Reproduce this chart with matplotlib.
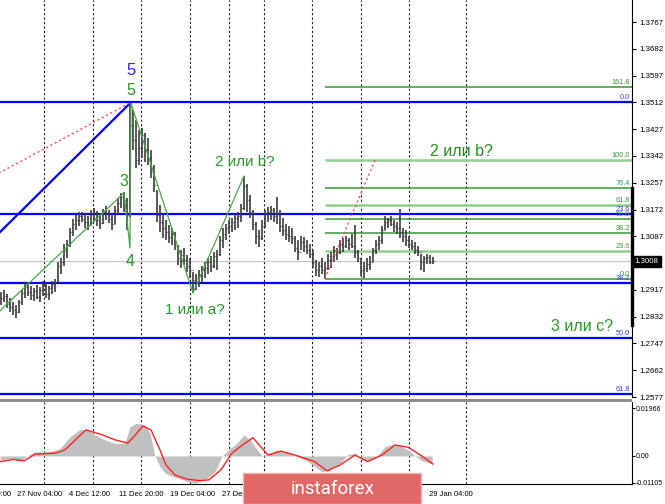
import matplotlib
matplotlib.use('Agg')
import matplotlib.pyplot as plt
from matplotlib.patches import Rectangle
from matplotlib.transforms import blended_transform_factory
import numpy as np

plt.rcParams['font.family'] = ['Liberation Sans', 'DejaVu Sans']

# H4 bars
highs = [1.2910, 1.2917, 1.2904, 1.2891, 1.2879, 1.2869, 1.2885, 1.2917, 1.2939, 1.2942,
         1.2929, 1.2923, 1.2932, 1.2926, 1.2945, 1.2939, 1.2929, 1.2945, 1.2952, 1.3006,
         1.3018, 1.3063, 1.3075, 1.3113, 1.3142, 1.3155, 1.3164, 1.3164, 1.3158, 1.3152,
         1.3171, 1.3177, 1.3167, 1.3161, 1.3174, 1.3183, 1.3171, 1.3158, 1.3183, 1.3209,
         1.3225, 1.3228, 1.3209, 1.3510, 1.3488, 1.3456, 1.3424, 1.3431, 1.3415, 1.3399,
         1.3361, 1.3313, 1.3234, 1.3186, 1.3155, 1.3139, 1.3123, 1.3113, 1.3101, 1.3059,
         1.3043, 1.3050, 1.3028, 1.3018, 1.2974, 1.2967, 1.2980, 1.2993, 1.3006, 1.3018,
         1.3025, 1.3037, 1.3043, 1.3088, 1.3113, 1.3126, 1.3139, 1.3145, 1.3158, 1.3164,
         1.3190, 1.3278, 1.3253, 1.3218, 1.3171, 1.3132, 1.3107, 1.3139, 1.3171, 1.3180,
         1.3183, 1.3177, 1.3212, 1.3171, 1.3145, 1.3126, 1.3120, 1.3113, 1.3088, 1.3075,
         1.3088, 1.3085, 1.3075, 1.3063, 1.3043, 1.3012, 1.3006, 1.3018, 1.3006, 1.3031,
         1.3037, 1.3056, 1.3050, 1.3075, 1.3082, 1.3088, 1.3082, 1.3094, 1.3123, 1.3043,
         1.3018, 1.3006, 1.3018, 1.3025, 1.3050, 1.3075, 1.3088, 1.3120, 1.3152, 1.3145,
         1.3152, 1.3139, 1.3132, 1.3174, 1.3113, 1.3107, 1.3088, 1.3075, 1.3069, 1.3056,
         1.3031, 1.3025, 1.3031, 1.3028, 1.3021]
lows = [1.2869, 1.2879, 1.2860, 1.2847, 1.2837, 1.2828, 1.2844, 1.2869, 1.2891, 1.2898,
        1.2885, 1.2882, 1.2888, 1.2879, 1.2898, 1.2891, 1.2885, 1.2904, 1.2910, 1.2939,
        1.2967, 1.2993, 1.3018, 1.3053, 1.3088, 1.3107, 1.3120, 1.3132, 1.3113, 1.3107,
        1.3123, 1.3132, 1.3120, 1.3110, 1.3126, 1.3139, 1.3129, 1.3107, 1.3126, 1.3158,
        1.3177, 1.3164, 1.3107, 1.3148, 1.3361, 1.3304, 1.3313, 1.3336, 1.3323, 1.3313,
        1.3272, 1.3228, 1.3132, 1.3101, 1.3082, 1.3075, 1.3066, 1.3059, 1.3043, 1.2996,
        1.2986, 1.2996, 1.2974, 1.2955, 1.2907, 1.2917, 1.2926, 1.2939, 1.2955, 1.2967,
        1.2974, 1.2986, 1.2980, 1.3025, 1.3050, 1.3075, 1.3094, 1.3101, 1.3107, 1.3113,
        1.3132, 1.3171, 1.3164, 1.3145, 1.3107, 1.3063, 1.3053, 1.3075, 1.3113, 1.3132,
        1.3139, 1.3132, 1.3126, 1.3101, 1.3088, 1.3075, 1.3069, 1.3063, 1.3037, 1.3012,
        1.3043, 1.3037, 1.3031, 1.3018, 1.2986, 1.2961, 1.2958, 1.2967, 1.2952, 1.2980,
        1.2986, 1.3006, 1.3012, 1.3031, 1.3037, 1.3050, 1.3043, 1.3050, 1.3018, 1.3006,
        1.2961, 1.2955, 1.2974, 1.2980, 1.3006, 1.3031, 1.3043, 1.3063, 1.3107, 1.3113,
        1.3120, 1.3101, 1.3094, 1.3082, 1.3069, 1.3056, 1.3050, 1.3043, 1.3031, 1.3025,
        1.2980, 1.2974, 1.2999, 1.2999, 1.2999]
closes = [1.2891, 1.2898, 1.2872, 1.2863, 1.2853, 1.2847, 1.2879, 1.2907, 1.2926, 1.2910,
          1.2901, 1.2914, 1.2894, 1.2917, 1.2929, 1.2904, 1.2923, 1.2936, 1.2942, 1.2993,
          1.3006, 1.3043, 1.3063, 1.3101, 1.3126, 1.3139, 1.3152, 1.3142, 1.3132, 1.3123,
          1.3158, 1.3145, 1.3139, 1.3129, 1.3164, 1.3158, 1.3142, 1.3126, 1.3171, 1.3193,
          1.3212, 1.3202, 1.3155, 1.3440, 1.3393, 1.3329, 1.3367, 1.3409, 1.3361, 1.3336,
          1.3291, 1.3250, 1.3155, 1.3132, 1.3113, 1.3101, 1.3085, 1.3094, 1.3056, 1.3018,
          1.3028, 1.3012, 1.2993, 1.2980, 1.2948, 1.2955, 1.2964, 1.2980, 1.2986, 1.3006,
          1.2993, 1.3025, 1.3031, 1.3075, 1.3094, 1.3113, 1.3120, 1.3132, 1.3145, 1.3152,
          1.3177, 1.3247, 1.3202, 1.3164, 1.3126, 1.3088, 1.3082, 1.3120, 1.3158, 1.3164,
          1.3171, 1.3152, 1.3158, 1.3120, 1.3107, 1.3094, 1.3088, 1.3082, 1.3050, 1.3037,
          1.3069, 1.3056, 1.3043, 1.3031, 1.3006, 1.2980, 1.2993, 1.2980, 1.2986, 1.3012,
          1.3025, 1.3043, 1.3037, 1.3063, 1.3056, 1.3075, 1.3063, 1.3056, 1.3037, 1.3018,
          1.2980, 1.2986, 1.2999, 1.3006, 1.3043, 1.3063, 1.3075, 1.3107, 1.3132, 1.3139,
          1.3126, 1.3120, 1.3113, 1.3101, 1.3088, 1.3075, 1.3063, 1.3056, 1.3043, 1.3037,
          1.3006, 1.3018, 1.3021, 1.3006, 1.3009]
opens = [closes[0]] + closes[:-1]
last_price = 1.3008

# MACD panel (bar index, value)
hist_x = [-0.3, 3, 6.3, 8.7, 11.3, 16.3, 19.7, 23, 26.3, 29, 31.3, 34.7, 38, 41.3, 43, 45,
          48, 49.7, 51.3, 53, 54.7, 58, 61.3, 64.7, 66.3, 68.7, 71.3, 73.7, 75.7, 78, 81,
          83, 85.3, 87, 89.7, 92, 94.7, 98, 101.3, 104.7, 107, 109.7, 113, 115.7, 118,
          120.3, 123, 125.7, 128, 130.7, 133, 135.7, 138, 140.3, 143.7]
hist_v = [-0.0015, -0.0010, -0.0023, 0.0, 0.0018, 0.0018, 0.0031, 0.0079, 0.0109, 0.0107,
          0.0086, 0.0066, 0.0052, 0.0052, 0.0120, 0.0134, 0.0127, 0.0093, 0.0, -0.0044,
          -0.0071, -0.0087, -0.0101, -0.0112, -0.0105, -0.0092, -0.0064, 0.0, 0.0025, 0.0045,
          0.0086, 0.0068, 0.0027, 0.0, 0.0011, 0.0025, 0.0018, 0.0, -0.0016, -0.0044,
          -0.0064, -0.0057, -0.0030, 0.0007, 0.0011, -0.0016, -0.0019, 0.0004, 0.0038, 0.0049,
          0.0041, 0.0025, 0.0, -0.0019, -0.0033]
sig_x = [-0.3, 4.2, 7.7, 11.3, 18.3, 21.3, 28.3, 34, 38, 42.3, 44.3, 47.3, 50, 53, 55, 58,
         62, 66.3, 69.3, 73.3, 77, 80.5, 84, 89, 93.3, 99, 104.5, 108.7, 113, 118, 122.2,
         127, 131.3, 135.7, 139.8, 144]
sig_v = [-0.0023, -0.0014, -0.0020, 0.0007, 0.0012, 0.0025, 0.0107, 0.0086, 0.0066, 0.0053,
         0.0079, 0.0123, 0.0107, 0.0025, -0.0037, -0.0078, -0.0095, -0.0101, -0.0098, -0.0057,
         0.0012, 0.0045, 0.0075, 0.0004, 0.0020, 0.0, -0.0023, -0.0061, -0.0037, 0.0004,
         -0.0023, 0.0004, 0.0045, 0.0036, 0.0004, -0.0033]

# wave markup
wave_x = [-1, 41, 43, 43.3, 64, 81]
wave_y = [1.2845, 1.3225, 1.3050, 1.3510, 1.2907, 1.3278]
blue_trend_x = [-1, 43.3]
blue_trend_y = [1.3094, 1.3512]
red_trend_x = [-1, 43.3]
red_trend_y = [1.3286, 1.3512]
red_fib_x = [108, 124.7]
red_fib_y = [1.2953, 1.3329]

# fibonacci grids
blue_fib_high, blue_fib_low = 1.3512, 1.2015
blue_levels = [0.0, 23.6, 38.2, 50.0, 61.8]
green_fib_low, green_fib_high = 1.2953, 1.3329
green_levels = [0.0, 23.6, 38.2, 50.0, 61.8, 76.4, 100.0, 161.8]
green_light = [23.6, 61.8, 100.0]
green_start = 108

price_ticks = [1.2577 + 0.0085 * k for k in range(15)]
macd_ticks = [-0.01105, 0.0, 0.01966]
grid_x = [14.3, 30.7, 46.7, 63, 76, 87.7, 103.7, 120, 136, 155]
date_x = [-4.3, 12.7, 29.5, 46.7, 64, 81.3, 150]
date_labels = ['20 Nov 20:00', '27 Nov 04:00', '4 Dec 12:00', '11 Dec 20:00',
               '19 Dec 04:00', '27 Dec 12:00', '29 Jan 04:00']

green = '#239b23'
bar_col = '#3c3c3c'
fig = plt.figure(figsize=(6.65, 5.04), dpi=100)
ax = fig.add_axes([0, 1 - 397 / 504, 632 / 665, 397 / 504])
ax2 = fig.add_axes([0, 1 - 484 / 504, 632 / 665, 82 / 504])
xlim = (-1 / 3, 631 / 3)

# ---- price panel
x = np.arange(len(highs))
ax.vlines(x, lows, highs, color=bar_col, lw=1.2, zorder=3)
ax.hlines(opens, x - 0.33, x, color=bar_col, lw=0.9, zorder=3)
ax.hlines(closes, x, x + 0.33, color=bar_col, lw=0.9, zorder=3)

for gx in grid_x:
    ax.axvline(gx, color='#222222', lw=0.8, ls=(0, (2, 2)), zorder=1)
    ax2.axvline(gx, color='#222222', lw=0.8, ls=(0, (2, 2)), zorder=1)

ax.axhline(last_price, color='#c8c8c8', lw=0.9, zorder=1)

for lvl in blue_levels:
    p = blue_fib_high - lvl / 100 * (blue_fib_high - blue_fib_low)
    ax.axhline(p, color='#0000ff', lw=1.6, zorder=2)
    ax.text(xlim[1] - 0.8, p + 0.0003, '%.1f' % lvl, color='#3a3aff', fontsize=5.3,
            ha='right', va='bottom', zorder=6)

for lvl in green_levels:
    p = green_fib_low + lvl / 100 * (green_fib_high - green_fib_low)
    if lvl in green_light:
        ax.hlines(p, green_start, xlim[1], color='#8ecf8e', lw=1.8, zorder=2)
    else:
        ax.hlines(p, green_start, xlim[1], color='#359935', lw=1.1, zorder=2)
    ax.text(xlim[1] - 0.8, p + 0.0003, '%.1f' % lvl, color='#3a9a3a', fontsize=5.3,
            ha='right', va='bottom', zorder=6)

ax.plot(blue_trend_x, blue_trend_y, color='#0000ff', lw=1.6, zorder=4)
ax.plot(red_trend_x, red_trend_y, color='#ff4a4a', lw=1.0, ls=(0, (1.5, 2)), zorder=4)
ax.plot(red_fib_x, red_fib_y, color='#ff4a4a', lw=1.0, ls=(0, (1.5, 2)), zorder=4)
ax.plot(wave_x, wave_y, color='#45a845', lw=0.9, zorder=4)

ax.text(43.3, 1.3612, '5', color='#2626ff', fontsize=12, ha='center', va='center')
ax.text(43.3, 1.3550, '5', color=green, fontsize=11.5, ha='center', va='center')
ax.text(41, 1.3261, '3', color=green, fontsize=11.5, ha='center', va='center')
ax.text(43, 1.3007, '4', color=green, fontsize=11.5, ha='center', va='center')
ax.text(81.3, 1.3322, '2 или b?', color=green, fontsize=11, ha='center', va='center')
ax.text(64.7, 1.2853, '1 или a?', color=green, fontsize=11, ha='center', va='center')
ax.text(153.6, 1.3356, '2 или b?', color='#1e8f1e', fontsize=11.5, ha='center', va='center')
ax.text(193.6, 1.2801, '3 или c?', color=green, fontsize=11.5, ha='center', va='center')

ax.set_xlim(xlim)
ax.set_ylim(1.2577, 1.3837)
ax.yaxis.tick_right()
ax.set_yticks(price_ticks)
ax.set_yticklabels(['' if abs(t - 1.3002) < 1e-4 else '%.4f' % t for t in price_ticks])
ax.tick_params(axis='y', direction='out', length=3, width=0.8, pad=2, labelsize=5.7)
ax.set_xticks([])
for s in ['top', 'left', 'bottom']:
    ax.spines[s].set_visible(False)
ax.spines['right'].set_linewidth(0.8)

tr = blended_transform_factory(ax.transAxes, ax.transData)
ax.plot([1.0, 1.0], [1.3240, 1.2806], transform=tr, color='black', lw=2.4, clip_on=False)
ax.text(1.004, last_price, '%.4f' % last_price, transform=tr, color='white', fontsize=5.7,
        ha='left', va='center', zorder=7, clip_on=False,
        bbox=dict(boxstyle='square,pad=0.25', fc='black', ec='black'))

# ---- separator
fig.add_artist(Rectangle((0, 1 - 402 / 504), 632 / 665, 3.5 / 504,
                         transform=fig.transFigure, color='#8c8c8c', lw=0))

# ---- MACD panel
ax2.fill_between(hist_x, 0, hist_v, color='#c0c0c0', lw=0, zorder=2)
ax2.plot(sig_x, sig_v, color='#ff2020', lw=1.0, zorder=3)
ax2.set_xlim(xlim)
ax2.set_ylim(-0.01148, 0.02213)
ax2.yaxis.tick_right()
ax2.set_yticks(macd_ticks)
ax2.set_yticklabels(['-0.01105', '0.00', '0.01966'])
ax2.tick_params(axis='y', direction='out', length=2, width=0.8, pad=1, labelsize=5.0)
ax2.set_xticks([])
for s in ['top', 'left']:
    ax2.spines[s].set_visible(False)
ax2.spines['right'].set_linewidth(0.8)
ax2.spines['bottom'].set_linewidth(0.8)

tr2 = blended_transform_factory(ax2.transData, ax2.transAxes)
for dx, lab in zip(date_x, date_labels):
    ax2.text(dx, -0.125, lab, transform=tr2, fontsize=5.5, ha='center', va='center',
             clip_on=False)

# ---- watermark
fig.add_artist(Rectangle((243 / 665, 0), 178 / 665, 31 / 504, transform=fig.transFigure,
                         fc='#e26767', ec='#f2b0b0', lw=1.0, zorder=10))
fig.text(333 / 665, 1 - 489 / 504, 'instaforex', color='white', fontsize=13.5,
         family='Roboto', ha='center', va='center', zorder=11)

fig.savefig('out.png', dpi=100, facecolor='white')
